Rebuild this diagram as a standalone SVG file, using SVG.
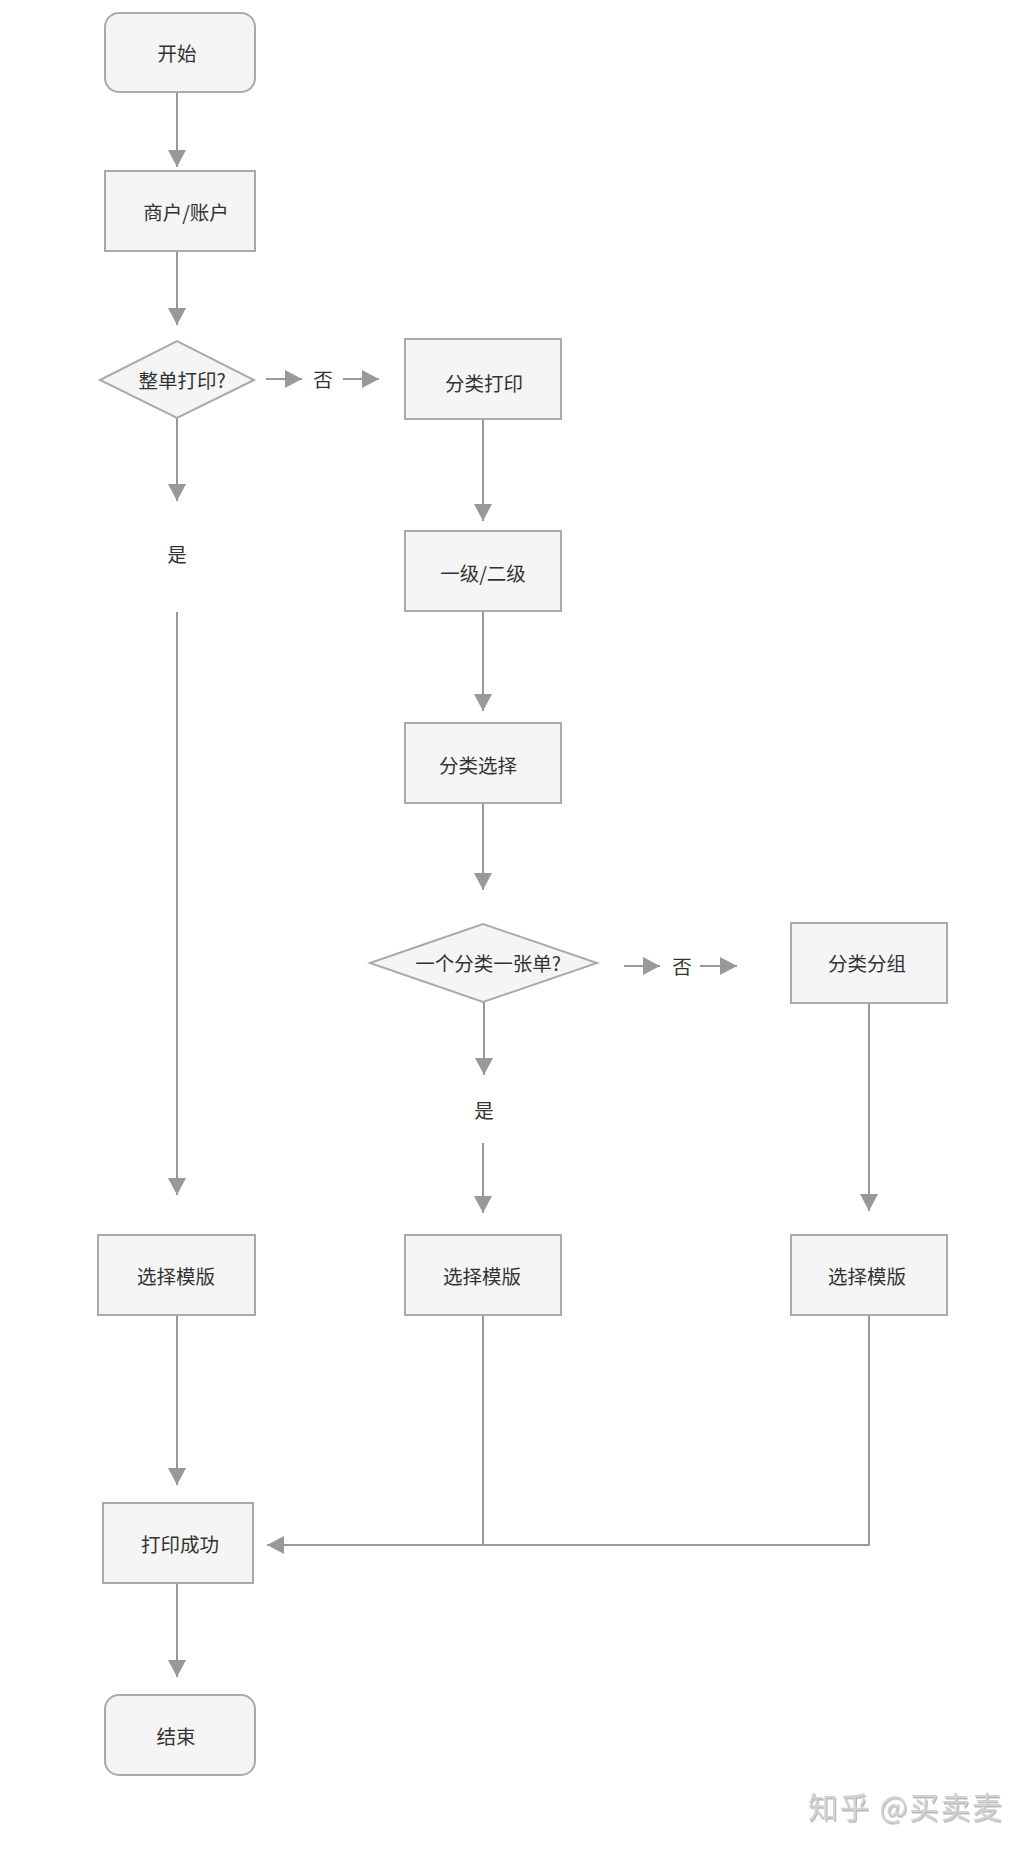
<svg xmlns="http://www.w3.org/2000/svg" width="1028" height="1852" viewBox="0 0 1028 1852">
<style>
.box{fill:#f5f5f5;stroke:#aaaaaa;stroke-width:2}
.t{font-family:"Noto Sans CJK SC","Noto Sans",sans-serif;font-size:19.5px;fill:#333333;text-anchor:middle;dominant-baseline:central}
.c{fill:none;stroke:#999999;stroke-width:2}
.a{marker-end:url(#ah)}
.wm{font-family:"Noto Sans CJK SC","Noto Sans",sans-serif;font-size:30px;letter-spacing:1.5px;fill:#d2d2d2}
</style>
<defs>
<marker id="ah" markerUnits="userSpaceOnUse" markerWidth="18" markerHeight="18" refX="17" refY="9" orient="auto">
<path d="M0,0 L17,9 L0,18 z" fill="#999999"/>
</marker>
<filter id="emb" x="-5%" y="-20%" width="110%" height="140%">
<feDropShadow dx="1" dy="1.5" stdDeviation="0.6" flood-color="#888888" flood-opacity="0.6"/>
</filter>
</defs>
<rect width="1028" height="1852" fill="#ffffff"/>
<g id="connectors">
<path class="c a" d="M177,92 V167"/>
<path class="c a" d="M177,251 V325"/>
<path class="c a" d="M177,418 V501"/>
<path class="c a" d="M177,612 V1195"/>
<path class="c a" d="M177,1315 V1485"/>
<path class="c a" d="M177,1583 V1677"/>
<path class="c a" d="M266,379 H302"/>
<path class="c a" d="M343,379 H379"/>
<path class="c a" d="M483,419 V521"/>
<path class="c a" d="M483,611 V711"/>
<path class="c a" d="M483,803 V890"/>
<path class="c a" d="M484,1002 V1075"/>
<path class="c a" d="M483,1143 V1213"/>
<path class="c a" d="M624,966 H660"/>
<path class="c a" d="M700,966 H737"/>
<path class="c a" d="M869,1003 V1211"/>
<path class="c" d="M483,1315 V1545"/>
<path class="c a" d="M869,1315 V1545 H267"/>
<text class="t" x="323" y="378">否</text>
<text class="t" x="682" y="965">否</text>
<text class="t" x="177" y="553">是</text>
<text class="t" x="484" y="1109">是</text>
</g>
<g id="start"><rect class="box" x="105" y="13" width="150" height="79" rx="14"/><text class="t" x="177" y="52">开始</text></g>
<g id="merchant"><rect class="box" x="105" y="171" width="150" height="80"/><text class="t" x="186" y="211">商户/账户</text></g>
<g id="whole-print"><polygon class="box" points="100,380 177,341 254,380 177,418"/><text class="t" x="182" y="379">整单打印?</text></g>
<g id="category-print"><rect class="box" x="405" y="339" width="156" height="80"/><text class="t" x="484" y="382">分类打印</text></g>
<g id="level"><rect class="box" x="405" y="531" width="156" height="80"/><text class="t" x="483" y="572">一级/二级</text></g>
<g id="category-select"><rect class="box" x="405" y="723" width="156" height="80"/><text class="t" x="478" y="764">分类选择</text></g>
<g id="one-per-sheet"><polygon class="box" points="370,963 483,924 597,963 483,1002"/><text class="t" x="488" y="962">一个分类一张单?</text></g>
<g id="category-group"><rect class="box" x="791" y="923" width="156" height="80"/><text class="t" x="867" y="962">分类分组</text></g>
<g id="template-left"><rect class="box" x="98" y="1235" width="157" height="80"/><text class="t" x="176" y="1275">选择模版</text></g>
<g id="template-mid"><rect class="box" x="405" y="1235" width="156" height="80"/><text class="t" x="482" y="1275">选择模版</text></g>
<g id="template-right"><rect class="box" x="791" y="1235" width="156" height="80"/><text class="t" x="867" y="1275">选择模版</text></g>
<g id="success"><rect class="box" x="103" y="1503" width="150" height="80"/><text class="t" x="180" y="1543">打印成功</text></g>
<g id="end"><rect class="box" x="105" y="1695" width="150" height="80" rx="14"/><text class="t" x="176" y="1735">结束</text></g>
<text class="wm" x="808" y="1818" filter="url(#emb)">知乎 @买卖麦</text>
</svg>
